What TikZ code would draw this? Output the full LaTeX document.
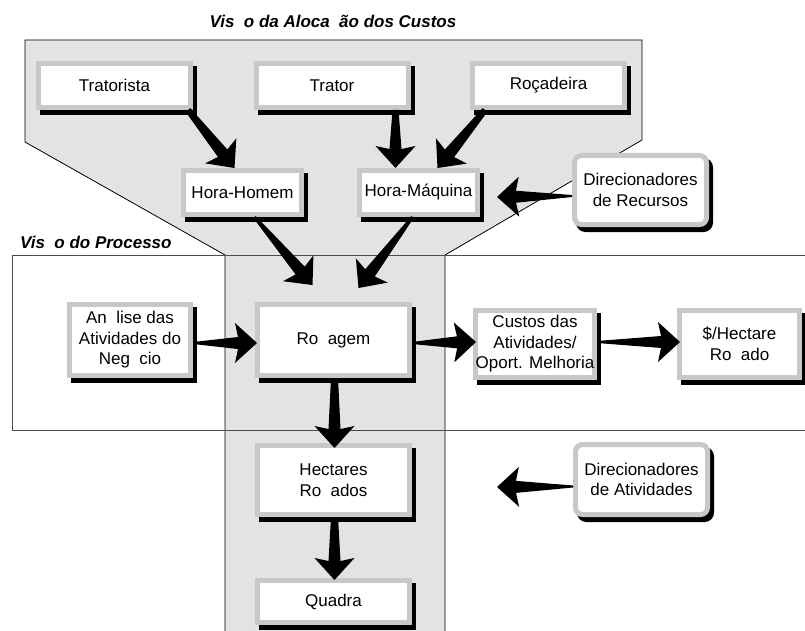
\documentclass[tikz,border=0pt]{standalone}
\usepackage{fontspec}
\setmainfont{Liberation Sans}
\usepackage{tikz}
\usetikzlibrary{calc, positioning}
\definecolor{funnelgray}{RGB}{227,227,227}
\definecolor{framegray}{RGB}{200,200,200}
\newcommand{\miss}{\hspace{.55em}}
\newcommand{\fatarrow}[3][1pt]{
    \coordinate (ba-s) at #2;
    \coordinate (ba-t) at #3;
    \coordinate (ba-n) at ($(ba-t)!19pt!(ba-s)$);
    \coordinate (ba-b) at ($(ba-t)!22pt!(ba-s)$);
    \fill
    ($(ba-s)!#1!90:(ba-t)$) -- ($(ba-n)!6pt!90:(ba-t)$) -- ($(ba-b)!20pt!90:(ba-t)$) -- (ba-t) -- ($(ba-b)!20pt!-90:(ba-t)$) -- ($(ba-n)!6pt!-90:(ba-t)$) -- ($(ba-s)!#1!-90:(ba-t)$) -- cycle;
}
\tikzset{
    box/.style={draw=framegray, line width=5pt, fill=white, outer sep=2.5pt, inner sep=0pt, align=center,
        font=\fontsize{17pt}{20.5pt}\selectfont,
        preaction={draw=black, fill=black, transform canvas={xshift=4pt, yshift=-5pt}}},
    rbox/.style={box, rounded corners=7pt},
    ttl/.style={inner sep=0pt, font=\bfseries\itshape\fontsize{17pt}{20pt}\selectfont},
    frame/.style={line width=0.8pt}
}
\begin{document}
\begin{tikzpicture}[x=1pt, y=-1pt]
    \useasboundingbox (0,0) rectangle (805,631);
    \clip (0,0) rectangle (805,631);
    % funnel and process band
    \filldraw[frame, fill=funnelgray] (225,640) -- (225,255) -- (25,142) -- (25,40) -- (642,40) -- (642,140) -- (445,255) -- (445,640);
    \draw[frame, black!70] (810,255) -- (12,255) -- (12,430) -- (810,430);
    \node[ttl] (titulo) at (333,21) {Vis\miss o da Aloca\miss ão dos Custos};
    \node[ttl, anchor=west] (proc) at (20,242) {Vis\miss o do Processo};
    % resources
    \node[box, minimum width=152pt, minimum height=44pt] (trat) at (114.5,85.5) {Tratorista};
    \node[box, minimum width=152pt, minimum height=44pt] (trator) at (332,85.5) {Trator};
    \node[box, minimum width=152pt, minimum height=44pt] (rocad) at (548.5,85.5) {Roçadeira};
    \node[box, minimum width=118pt, minimum height=44pt] (hh) at (242.5,192.5) {Hora-Homem};
    \node[box, minimum width=118pt, minimum height=44pt] (hm) at (418.5,192.5) {Hora-Máquina};
    \node[rbox, minimum width=132pt, minimum height=69pt] (dirrec) at (640.5,190) {Direcionadores\\de Recursos};
    % process
    \node[box, minimum width=121pt, minimum height=71pt] (analise) at (130,340) {An\miss lise das\\Atividades do\\Neg\miss cio};
    \node[box, minimum width=152pt, minimum height=71pt] (rocagem) at (333.5,340) {Ro\miss agem};
    \node[box, minimum width=119pt, minimum height=67pt] (custos) at (535,344) {Custos das\\Atividades/\\Oport. Melhoria};
    \node[box, minimum width=120pt, minimum height=67pt] (hectare) at (739.5,344) {\$/Hectare\\Ro\miss ado};
    \node[box, minimum width=152pt, minimum height=69pt] (hect) at (333.5,480) {Hectares\\Ro\miss ados};
    \node[box, minimum width=152pt, minimum height=42pt] (quadra) at (333.5,601.5) {Quadra};
    \node[rbox, minimum width=132pt, minimum height=70pt] (dirativ) at (641.5,479.5) {Direcionadores\\de Atividades};
    \coordinate (rectip) at (497,197);
    \coordinate (atvtip) at (497,487);
    % arrows
    \fatarrow[3pt]{($(trat.south east)+(-5,0)$)}{($(hh.north)+(-8,0)$)}
    \fatarrow[3pt]{($(trator.south east)+(-15,0)$)}{($(hm.north)+(-23,0)$)}
    \fatarrow[3pt]{($(rocad.south west)+(15,0)$)}{($(hm.north)+(19,0)$)}
    \fatarrow[1.5pt]{($(hh.south)+(12,0)$)}{($(rocagem.north)+(-21,-17)$)}
    \fatarrow[1.5pt]{($(hm.south)+(-6,0)$)}{($(rocagem.north)+(25,-14)$)}
    \fatarrow{($(dirrec.west)+(0,6)$)}{(rectip)}
    \fatarrow{($(analise.east)+(0,3)$)}{($(rocagem.west)+(2,3)$)}
    \fatarrow{($(rocagem.east)+(0,3)$)}{($(custos.west)+(3,-2)$)}
    \fatarrow{($(custos.east)+(0,-2)$)}{($(hectare.west)+(3,-2)$)}
    \fatarrow[3.5pt]{($(rocagem.south)+(1,0)$)}{($(hect.north)+(1,5)$)}
    \fatarrow[3.5pt]{($(hect.south)+(1,0)$)}{($(quadra.north)+(1,2)$)}
    \fatarrow{($(dirativ.west)+(0,7)$)}{(atvtip)}
\end{tikzpicture}
\end{document}
